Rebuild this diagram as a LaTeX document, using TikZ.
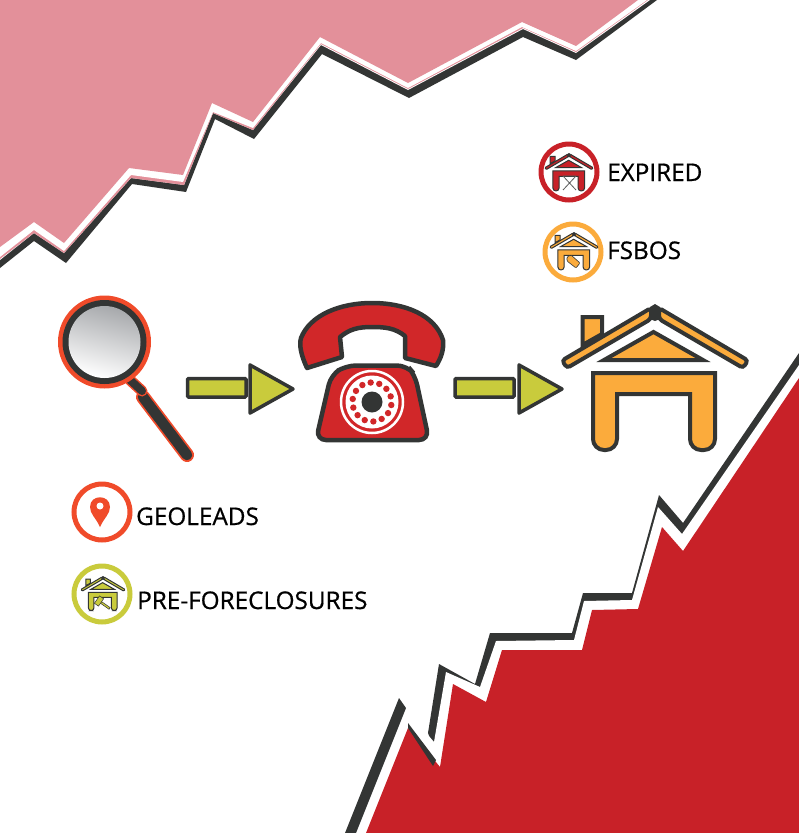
\documentclass[tikz,border=0pt]{standalone}
\usepackage{fontspec}
\setmainfont{Open Sans}
\newfontfamily\labelfont[FakeBold=0.7]{Open Sans}
\usetikzlibrary{positioning, calc}

\definecolor{inkdark}{HTML}{333534}
\definecolor{chartpink}{HTML}{E3909A}
\definecolor{chartred}{HTML}{C82128}
\definecolor{phonered}{HTML}{D12729}
\definecolor{homeorange}{HTML}{FBAB3C}
\definecolor{searchred}{HTML}{F04B2A}
\definecolor{arrowolive}{HTML}{C9CB3C}
\definecolor{lensgray}{HTML}{A7A9AC}

\tikzset{
    pics/housepic/.style n args={3}{code={
        \begin{scope}[shift={(-655,-304)}, draw=inkdark, line width=#2, fill=#1, miter limit=6]
            \filldraw (582.5,345) -- (582.5,317) -- (602,317) -- (602,334) -- cycle;
            \filldraw[rounded corners=#3*.3] (651,308) -- (562,360.5) -- (567,368) -- (651,319) -- cycle;
            \filldraw[rounded corners=#3*.3] (659,308) -- (748,360.5) -- (743,368) -- (659,319) -- cycle;
            \fill[inkdark] (655,304) -- (660,307) -- (660,319) -- (655,321) -- (650,319) -- (650,307) -- cycle;
            \filldraw (653.5,332) -- (604,360) -- (703,360) -- cycle;
            \filldraw (593,373) -- (715,373) [rounded corners=#3] -- (715,450) -- (690,450) [sharp corners] -- (690,394) -- (617,394) [rounded corners=#3] -- (617,450) -- (593,450) [sharp corners] -- cycle;
        \end{scope}
    }}
}

\begin{document}
\begin{tikzpicture}[x=1pt, y=-1pt,
    ring/.style={draw=#1, circle, line width=5pt, minimum size=56pt, inner sep=0pt, fill=white},
    iconlabel/.style={anchor=base west, inner sep=0pt, font=\labelfont\fontsize{24.3}{26}\selectfont},
    arrowbar/.style={draw=inkdark, fill=arrowolive, line width=3.5pt, rounded corners=1pt},
    arrowtip/.style={draw=inkdark, fill=arrowolive, line width=3.5pt, line join=round}]
    \useasboundingbox (0,0) rectangle (799,833);

    % top chart
    \fill[inkdark] (0,0) -- (0,268) -- (34,241) -- (66,263) -- (132,184) -- (186,192) -- (215,119) -- (254,139) -- (322,54) -- (409,98) -- (523,37) -- (576,60) -- (657,0) -- cycle;
    \fill[white] (0,0) -- (0,260) -- (34,233) -- (64,253) -- (131,178) -- (184,185) -- (213,113) -- (253,130) -- (321,45) -- (408,90) -- (523,29) -- (576,53) -- (650,0) -- cycle;
    \fill[chartpink] (0,0) -- (0,259) -- (34,233) -- (64,253) -- (131,178) -- (184,185) -- (213,113) -- (253,130) -- (321,44) -- (408,89) -- (523,28) -- (576,52) -- (648,0) -- cycle;
    \fill[white] (0,0) -- (0,257) -- (34,230) -- (64,251) -- (131,175) -- (183,182) -- (213,112) -- (253,128) -- (321,43) -- (408,88) -- (522,27) -- (576,51) -- (647,0) -- cycle;
    \fill[chartpink] (0,0) -- (0,247) -- (34,222) -- (64,243) -- (129,168) -- (183,175) -- (212,103) -- (253,122) -- (320,37) -- (408,83) -- (522,22) -- (576,46) -- (638,0) -- cycle;

    % bottom chart
    \fill[inkdark] (428,733) -- (439,664) -- (475,684) -- (490,633) -- (572,633) -- (583,593) -- (632,593) -- (659,495) -- (683,523) -- (799,353) -- (799,400) -- (600,700) -- (434,750) -- cycle;
    \fill[white] (356,833) -- (405,708) -- (434,742) -- (446,672) -- (480,687) -- (496,641) -- (574,640) -- (584,601) -- (632,600) -- (658,507) -- (682,534) -- (799,365) -- (799,833) -- cycle;
    \fill[inkdark] (345,833) -- (399,698) -- (406,708) -- (356,833) -- cycle;
    \fill[chartred] (366,833) -- (408,728) -- (440,767) -- (453,684) -- (486,702) -- (502,650) -- (582,650) -- (592,610) -- (638,609) -- (662,527) -- (683,551) -- (799,378) -- (799,833) -- cycle;
    \fill[inkdark] (408,723) -- (436,760) -- (433,766) -- (408,728) -- cycle;

    % magnifier
    \draw[searchred, line width=14pt, line cap=round] (143,397) -- (187,455);
    \draw[inkdark, line width=10.5pt, line cap=round] (143,397) -- (187,455);
    \draw[searchred, line width=11pt, line cap=round] (130,380) -- (142,391);
    \draw[inkdark, line width=8pt, line cap=round] (130,380) -- (142,391);
    \fill[searchred] (104.5,342) circle (46.5);
    \fill[inkdark] (104.5,342) circle (42);
    \shade[top color=lensgray, bottom color=white, shading angle=-15] (104.5,342) circle (36);

    \draw[arrowbar] (187.5,378.5) rectangle (246,397);
    \draw[arrowtip] (250,365) -- (293,389) -- (250,413) -- cycle;
    \draw[arrowbar] (455,378.5) rectangle (514,397);
    \draw[arrowtip] (519,365) -- (562,389) -- (519,413) -- cycle;

    % phone
    \filldraw[draw=inkdark, fill=phonered, line width=4.5pt, line join=round] (307,368) .. controls (301,355) and (299,345) .. (301,338) .. controls (310,315) and (340,303) .. (372,303) .. controls (405,303) and (435,315) .. (443,340) .. controls (444,350) and (441,358) .. (436,366) -- (405,358) -- (405,336) .. controls (395,328) and (385,327) .. (372,327) .. controls (358,327) and (350,329) .. (340,337) -- (342,357) -- cycle;
    \filldraw[draw=inkdark, fill=phonered, line width=4.5pt, rounded corners=10] (346,365.5) -- (407,365.5) -- (415,375) -- (429,440) -- (316,440) -- (331,375) -- cycle;
    \draw[white, line width=2.5pt] (372,402) circle (31);
    \fill[white] (372,402) circle (26.5);
    \fill[inkdark] (372,402) circle (10.5);
    \foreach \i in {0,...,13}
        \fill[phonered] ($(372,402)+({86-25.7*\i}:19.5)$) circle (3.2);

    % big house
    \pic at (655,304) {housepic={homeorange}{4pt}{11}};

    % small icons
    \node[ring=chartred] (expiredring) at (569,172) {};
    \pic[scale=.26] at (569,153) {housepic={chartred}{1pt}{3}};
    \draw[inkdark!80, line width=.8pt] (563,176) -- (576,190) (576,176) -- (563,190) (563,176) -- (576,176);
    \node[iconlabel] (expiredlabel) at (607,181) {EXPIRED};

    \node[ring=homeorange] (fsbosring) at (573,252) {};
    \pic[scale=.26] at (574,232) {housepic={homeorange}{1pt}{3}};
    \filldraw[draw=inkdark, fill=homeorange, line width=.6pt, rounded corners=1] (567,257) -- (571,255) -- (580,263) -- (576,268) -- (567,261) -- cycle;
    \node[iconlabel] (fsboslabel) at (607,259) {FSBOS};

    \node[ring=searchred] (geolring) at (102,512) {};
    \fill[searchred] (100,527) .. controls (96,518) and (90,514) .. (90,507) .. controls (90,494) and (110,494) .. (110,507) .. controls (110,514) and (104,518) .. (100,527) -- cycle;
    \fill[white] (100,506) circle (3.5);
    \node[iconlabel] (geollabel) at (136,525) {GEOLEADS};

    \node[ring=arrowolive] (preforring) at (102,594) {};
    \pic[scale=.237] at (103,576) {housepic={arrowolive}{1pt}{3}};
    \begin{scope}[shift={(99,601)}, rotate=-35]
        \filldraw[draw=inkdark, fill=arrowolive, line width=.5pt] (2.5,-1) rectangle (13,1);
        \filldraw[draw=inkdark, fill=arrowolive, line width=.5pt] (-2.5,-4.5) rectangle (2.5,4.5);
    \end{scope}
    \node[iconlabel] (preforlabel) at (137,609) {PRE-FORECLOSURES};
\end{tikzpicture}
\end{document}
